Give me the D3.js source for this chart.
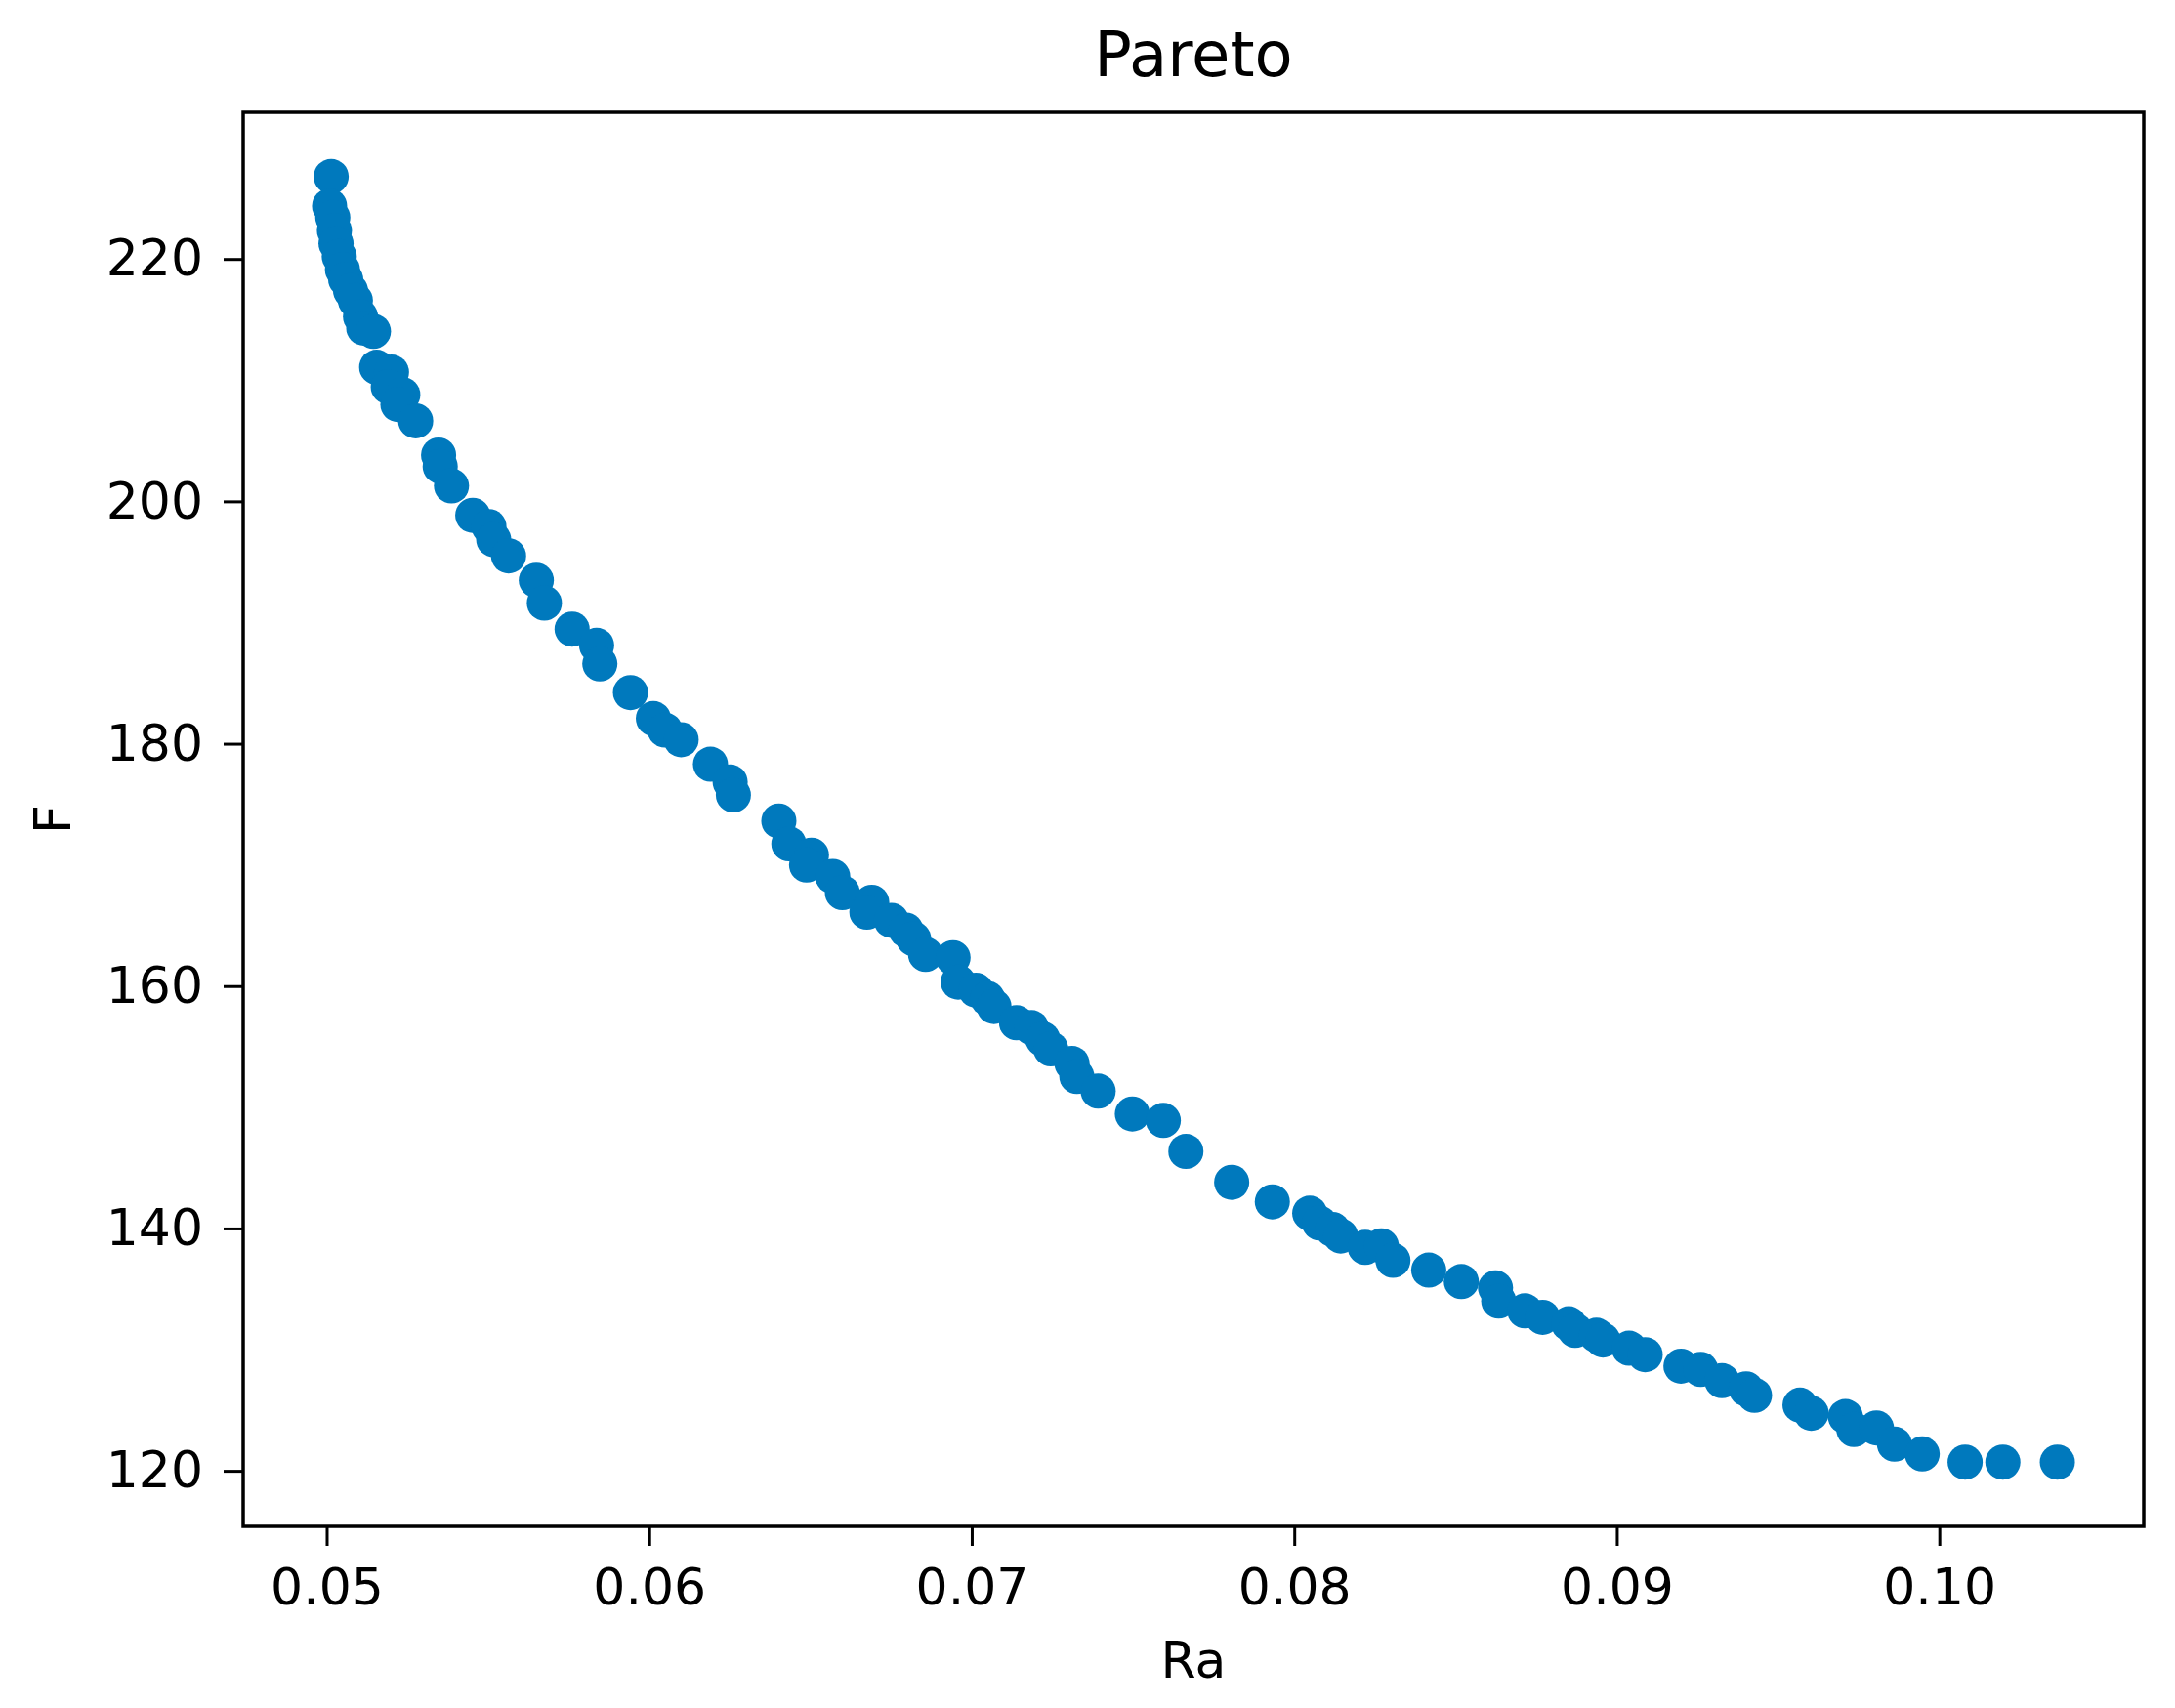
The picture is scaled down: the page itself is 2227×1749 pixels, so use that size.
<!DOCTYPE html>
<html>
<head>
<meta charset="utf-8">
<script src="https://cdn.jsdelivr.net/npm/d3@7"></script>
<style>
  body { margin: 0; background: #fff; }
  text { font-family: "DejaVu Sans", sans-serif; fill: #000; }
</style>
</head>
<body>
<div id="chart"></div>
<script>
// Pareto front (Ra vs F)
const ra = [
  0.05014, 0.05009, 0.05019, 0.05024, 0.05029, 0.05039, 0.05049, 0.05059, 0.05074, 0.05089,
  0.05105, 0.05115, 0.05145, 0.05155, 0.05201, 0.05191, 0.05236, 0.05221, 0.05276, 0.05347,
  0.05352, 0.05387, 0.05453, 0.05503, 0.05518, 0.05564, 0.05650, 0.05675, 0.05761, 0.05837,
  0.05847, 0.05942, 0.06013, 0.06049, 0.06099, 0.06190, 0.06251, 0.06261, 0.06402, 0.06433,
  0.06503, 0.06488, 0.06569, 0.06599, 0.06690, 0.06675, 0.06751, 0.06796, 0.06820, 0.06857,
  0.06942, 0.06958, 0.07013, 0.07049, 0.07069, 0.07139, 0.07185, 0.07220, 0.07245, 0.07311,
  0.07326, 0.07392, 0.07498, 0.07594, 0.07664, 0.07806, 0.07932, 0.08048, 0.08078, 0.08119,
  0.08144, 0.08220, 0.08270, 0.08306, 0.08417, 0.08518, 0.08624, 0.08634, 0.08715, 0.08770,
  0.08851, 0.08871, 0.08937, 0.08957, 0.09038, 0.09088, 0.09199, 0.09260, 0.09326, 0.09401,
  0.09427, 0.09568, 0.09603, 0.09709, 0.09735, 0.09805, 0.09861, 0.09947, 0.10080, 0.10197,
  0.10366
];
const f = [
  226.80, 224.37, 223.43, 222.35, 221.28, 220.20, 219.13, 218.32, 217.38, 216.58,
  215.24, 214.30, 214.03, 211.07, 210.66, 209.46, 208.80, 207.99, 206.64, 203.82,
  202.88, 201.27, 198.85, 197.92, 196.84, 195.50, 193.49, 191.61, 189.46, 188.12,
  186.59, 184.22, 182.08, 181.13, 180.33, 178.31, 176.84, 175.77, 173.62, 171.74,
  170.80, 169.99, 169.05, 167.71, 166.91, 166.10, 165.42, 164.62, 163.90, 162.61,
  162.34, 160.33, 159.66, 158.98, 158.31, 156.97, 156.57, 155.63, 154.82, 153.61,
  152.54, 151.33, 149.45, 148.91, 146.36, 143.81, 142.20, 141.26, 140.45, 139.92,
  139.38, 138.44, 138.57, 137.37, 136.56, 135.62, 135.09, 134.01, 133.20, 132.67,
  132.13, 131.59, 131.19, 130.79, 130.12, 129.58, 128.64, 128.37, 127.44, 126.76,
  126.23, 125.42, 124.75, 124.48, 123.41, 123.54, 122.20, 121.39, 120.72, 120.72,
  120.72
];
const xTicks = [0.05, 0.06, 0.07, 0.08, 0.09, 0.10];
const yTicks = [120, 140, 160, 180, 200, 220];

const W = 2227, H = 1749;
const margin = {top: 115, right: 32, bottom: 186, left: 249};
const width = W - margin.left - margin.right;
const height = H - margin.top - margin.bottom;

const points = ra.map((d, i) => ({ra: d, f: f[i]}));

// matplotlib-like 5% auto margins
const pad = (ext) => { const r = ext[1] - ext[0]; return [ext[0] - r * 0.05, ext[1] + r * 0.05]; };

const x = d3.scaleLinear().domain(pad(d3.extent(ra))).range([0, width]);
const y = d3.scaleLinear().domain(pad(d3.extent(f))).range([height, 0]);

const svg = d3.select("#chart").append("svg")
    .attr("width", W)
    .attr("height", H)
  .append("g")
    .attr("transform", "translate(" + margin.left + "," + margin.top + ")");

// points
svg.selectAll(".dot")
   .data(points)
   .enter().append("circle")
   .attr("class", "dot")
   .attr("cx", d => x(d.ra))
   .attr("cy", d => y(d.f))
   .attr("r", 18)
   .attr("fill", "#0079bd");

// axes
const xAxis = svg.append("g")
   .attr("transform", `translate(0, ${height})`)
   .call(d3.axisBottom(x).tickValues(xTicks).tickFormat(d3.format(".2f")).tickSize(20).tickPadding(23));
const yAxis = svg.append("g")
   .call(d3.axisLeft(y).tickValues(yTicks).tickFormat(d3.format("d")).tickSize(20).tickPadding(21));

[xAxis, yAxis].forEach(a => {
  a.select(".domain").remove();
  a.selectAll(".tick line").attr("stroke", "#000").attr("stroke-width", 3);
  a.selectAll(".tick text").style("font-size", "52px").attr("fill", "#000");
});

// frame
svg.append("rect")
   .attr("width", width)
   .attr("height", height)
   .attr("fill", "none")
   .attr("stroke", "#000")
   .attr("stroke-width", 3.5);

// title and labels
svg.append("text")
   .attr("x", width / 2)
   .attr("y", 78 - margin.top)
   .attr("text-anchor", "middle")
   .style("font-size", "64px")
   .text("Pareto");

svg.append("text")
   .attr("x", width / 2)
   .attr("y", 1718 - margin.top)
   .attr("text-anchor", "middle")
   .style("font-size", "52px")
   .text("Ra");

svg.append("text")
   .attr("transform", `translate(${72 - margin.left}, ${height / 2}) rotate(-90)`)
   .attr("text-anchor", "middle")
   .style("font-size", "52px")
   .text("F");
</script>
</body>
</html>
